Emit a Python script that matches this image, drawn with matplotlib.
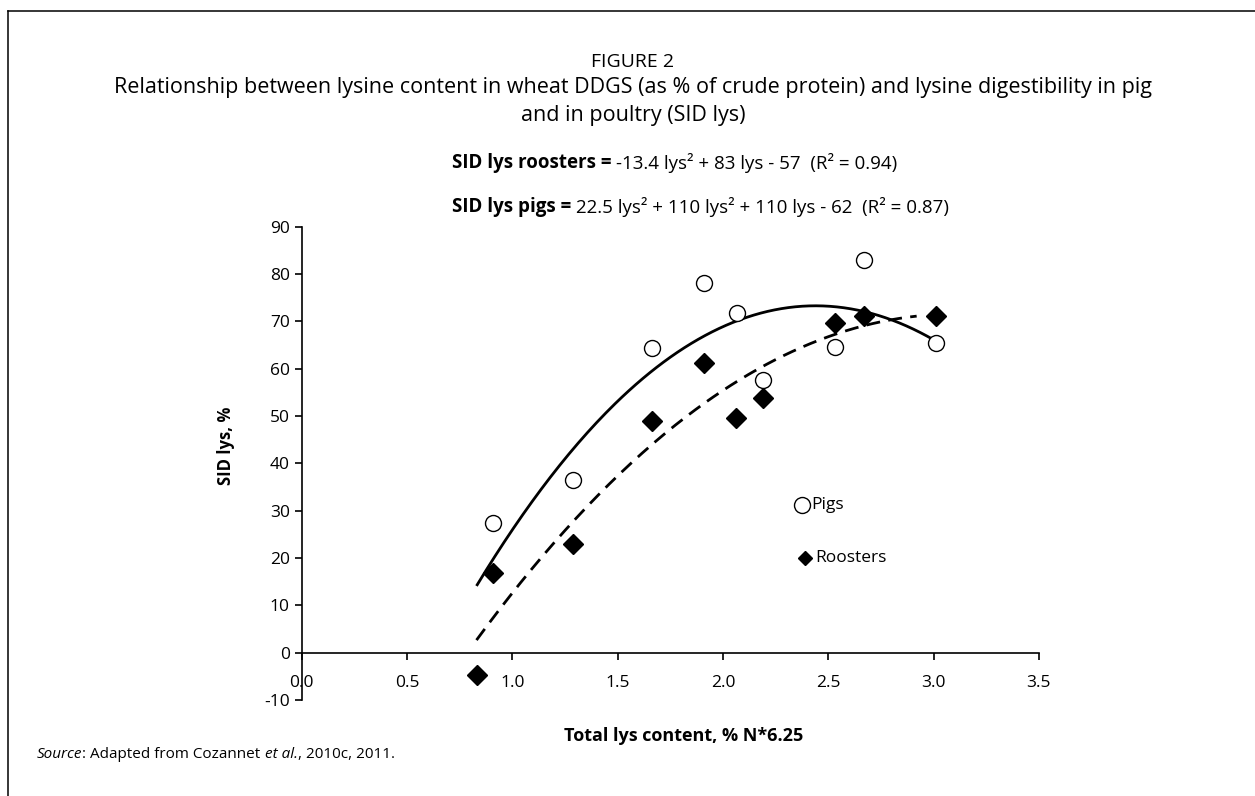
import matplotlib
matplotlib.use('Agg')
import matplotlib.pyplot as plt
import matplotlib.transforms as mtransforms
from matplotlib.lines import Line2D
import numpy as np

FONT = ['Open Sans', 'DejaVu Sans']
plt.rcParams['font.family'] = FONT
plt.rcParams['axes.unicode_minus'] = False

# ---------------- data ----------------
pig_x = [0.907, 1.287, 1.665, 1.912, 2.066, 2.192, 2.531, 2.671, 3.013]
pig_y = [27.5, 36.4, 64.3, 78.0, 71.7, 57.6, 64.5, 83.0, 65.5]
rooster_x = [0.834, 0.910, 1.290, 1.663, 1.912, 2.062, 2.192, 2.532, 2.671, 3.010]
rooster_y = [-4.7, 16.8, 23.0, 49.0, 61.2, 49.5, 53.8, 69.7, 71.1, 71.2]

# quadratic trend lines (a*x^2 + b*x + c) as drawn, and their x-range
pig_coef = [-22.84, 111.45, -62.67]
rooster_coef = [-13.4, 83.0, -57.0]
pig_range = [0.83, 3.013]
rooster_range = [0.83, 2.92]

x_ticks = [0.0, 0.5, 1.0, 1.5, 2.0, 2.5, 3.0, 3.5]
x_tick_labels = ['0.0', '0.5', '1.0', '1.5', '2.0', '2.5', '3.0', '3.5']
y_ticks = [-10, 0, 10, 20, 30, 40, 50, 60, 70, 80, 90]
y_tick_labels = ['-10', '0', '10', '20', '30', '40', '50', '60', '70', '80', '90']

legend_labels = ['Pigs', 'Roosters']
legend_pos = [(2.374, 31.3), (2.39, 20.0)]

title_lines = ['FIGURE 2',
               'Relationship between lysine content in wheat DDGS (as % of crude protein) and lysine digestibility in pig',
               'and in poultry (SID lys)']
eq_roosters = ('SID lys roosters = ', '-13.4 lys\u00b2 + 83 lys - 57  (R\u00b2 = 0.94)')
eq_pigs = ('SID lys pigs = ', '22.5 lys\u00b2 + 110 lys\u00b2 + 110 lys - 62  (R\u00b2 = 0.87)')

W, H = 1255, 796
fig = plt.figure(figsize=(W / 100, H / 100), dpi=100)

def fx(px):
    return px / W

def fy(py):
    return 1 - py / H

# frame lines (top and left)
fig.add_artist(Line2D([fx(8), 1.0], [fy(11), fy(11)], color='black', lw=1.1))
fig.add_artist(Line2D([fx(8), fx(8)], [fy(11), 0.0], color='black', lw=1.1))

ax = fig.add_axes([fx(301.7), fy(700), fx(1038.8) - fx(301.7), fy(226.7) - fy(700)])
ax.set_xlim(0, 3.5)
ax.set_ylim(-10, 90)
for s in ['top', 'right']:
    ax.spines[s].set_visible(False)
ax.spines['bottom'].set_position(('data', 0))
for s in ['left', 'bottom']:
    ax.spines[s].set_linewidth(1.2)
ax.set_xticks(x_ticks)
ax.set_xticklabels(x_tick_labels)
ax.set_yticks(y_ticks)
ax.set_yticklabels(y_tick_labels)
ax.tick_params(axis='both', direction='out', length=5, width=1.2, labelsize=12.5)
ax.tick_params(axis='x', pad=11)
ax.tick_params(axis='y', pad=3.5)

# trend lines
xp = np.linspace(pig_range[0], pig_range[1], 200)
ax.plot(xp, np.polyval(pig_coef, xp), color='black', lw=2.0, solid_capstyle='butt')
xr = np.linspace(rooster_range[0], rooster_range[1], 200)
ax.plot(xr, np.polyval(rooster_coef, xr), color='black', lw=2.0, dashes=(5, 3))

# points
ax.plot(pig_x, pig_y, 'o', ms=11.5, mfc='white', mec='black', mew=1.0, clip_on=False, zorder=3)
ax.plot(rooster_x, rooster_y, 'D', ms=9.7, mfc='black', mec='black', clip_on=False, zorder=3)

# in-plot legend
ax.plot([legend_pos[0][0]], [legend_pos[0][1]], 'o', ms=11.5, mfc='white', mec='black', mew=1.0)
ax.plot([legend_pos[1][0]], [legend_pos[1][1]], 'D', ms=7.6, mfc='black', mec='black')
for lab, (lx, ly) in zip(legend_labels, legend_pos):
    tr = mtransforms.offset_copy(ax.transData, fig=fig, x=7, y=0, units='points')
    ax.text(lx, ly, lab, transform=tr, ha='left', va='center', fontsize=12.5)

# axis labels
fig.text(fx(226), fy(446), 'SID lys, %', rotation=90, ha='center', va='center',
         fontsize=12, fontweight='bold')
fig.text(fx(684), fy(736), 'Total lys content, % N*6.25', ha='center', va='center',
         fontsize=13, fontweight='bold')

# titles
fig.text(fx(633), fy(62), title_lines[0], ha='center', va='center', fontsize=14)
fig.text(fx(633), fy(88), title_lines[1], ha='center', va='center', fontsize=15.5)
fig.text(fx(633), fy(115), title_lines[2], ha='center', va='center', fontsize=15.5)

renderer = fig.canvas.get_renderer()

def mixed(x0, y0, parts, styles, size):
    x = fx(x0)
    for txt, st in zip(parts, styles):
        t = fig.text(x, fy(y0), txt, ha='left', va='center', fontsize=size, **st)
        bb = t.get_window_extent(renderer=renderer)
        x = bb.x1 / W

mixed(452, 163, eq_roosters, [dict(fontweight='bold'), {}], 13.5)
mixed(452, 207, eq_pigs, [dict(fontweight='bold'), {}], 13.5)

# source note
mixed(37, 755, ['Source', ': Adapted from Cozannet ', 'et al.', ', 2010c, 2011.'],
      [dict(style='italic'), {}, dict(style='italic'), {}], 11)

fig.savefig('out.png', dpi=100)
